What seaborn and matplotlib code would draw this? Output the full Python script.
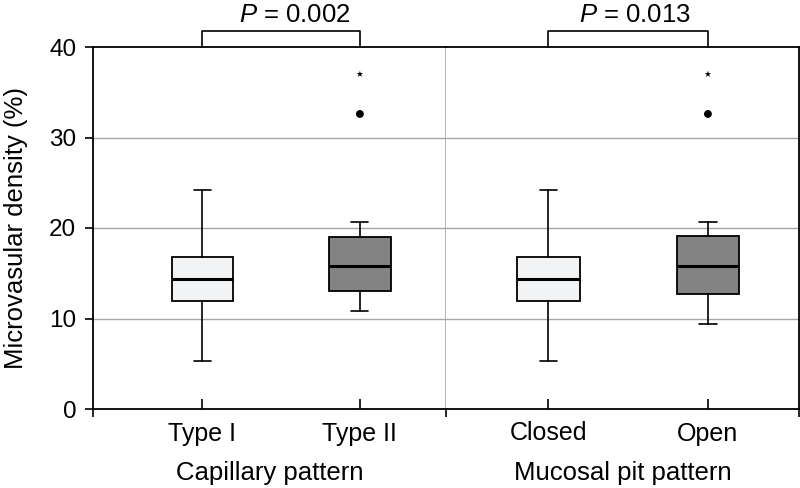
import numpy as np
import pandas as pd
import matplotlib
matplotlib.use("Agg")
import matplotlib.pyplot as plt
import matplotlib.transforms as mtransforms
import seaborn as sns

# ---- data ----
panel_titles = ["Capillary pattern", "Mucosal pit pattern"]
categories = [["Type I", "Type II"], ["Closed", "Open"]]
p_values = ["0.002", "0.013"]
whislo = [[5.3, 10.8], [5.3, 9.4]]
q1 = [[11.9, 13.0], [11.9, 12.7]]
med = [[14.4, 15.8], [14.4, 15.8]]
q3 = [[16.8, 19.0], [16.8, 19.1]]
whishi = [[24.2, 20.7], [24.2, 20.7]]
outliers = [[[], [32.6]], [[], [32.6]]]
extremes = [[[], [37.0]], [[], [37.0]]]
box_colors = ["#f2f3f5", "#838383"]
y_ticks = [0, 10, 20, 30, 40]

sns.set_theme(style="white")
plt.rcParams["font.family"] = ["Liberation Sans", "DejaVu Sans"]
plt.rcParams["mathtext.fontset"] = "custom"
plt.rcParams["mathtext.it"] = "Liberation Sans:italic"
plt.rcParams["mathtext.rm"] = "Liberation Sans"
plt.rcParams["text.color"] = "black"
plt.rcParams["axes.labelcolor"] = "black"
plt.rcParams["xtick.color"] = "black"
plt.rcParams["ytick.color"] = "black"

fig = plt.figure(figsize=(8, 4.88), dpi=100)
L, R, B, T = 93 / 800, 799 / 800, (488 - 409) / 488, (488 - 47) / 488
mid = 446 / 800
axes = [fig.add_axes([L, B, mid - L, T - B]), fig.add_axes([mid, B, R - mid, T - B])]
xlims = [(-0.695, 1.547), (-0.642, 1.571)]
p_shift_px = [14, 7]

for i, ax in enumerate(axes):
    ax.set_ylim(0, 40)
    ax.set_xlim(*xlims[i])
    for yv in [10, 20, 30]:
        ax.axhline(yv, color="#a6a6a6", lw=1.0, zorder=0)
    stats = []
    for j in range(2):
        stats.append(dict(whislo=whislo[i][j], q1=q1[i][j], med=med[i][j],
                          q3=q3[i][j], whishi=whishi[i][j], fliers=[]))
    bp = ax.bxp(stats, positions=[0, 1], widths=0.39, capwidths=0.108,
                patch_artist=True, showfliers=False, manage_ticks=False,
                boxprops=dict(linewidth=1.3, edgecolor="black"),
                medianprops=dict(linewidth=2.2, color="black"),
                whiskerprops=dict(linewidth=1.2, color="black"),
                capprops=dict(linewidth=1.2, color="black"))
    for patch, c in zip(bp["boxes"], box_colors):
        patch.set_facecolor(c)
    rows = []
    for j in range(2):
        for v in outliers[i][j]:
            rows.append(dict(x=j, y=v, kind="out"))
        for v in extremes[i][j]:
            rows.append(dict(x=j, y=v, kind="ext"))
    df = pd.DataFrame(rows)
    sns.scatterplot(data=df[df.kind == "out"], x="x", y="y", ax=ax, marker="o",
                    color="black", s=32, edgecolor="none", legend=False, zorder=5)
    sns.scatterplot(data=df[df.kind == "ext"], x="x", y="y", ax=ax, marker="*",
                    color="black", s=24, edgecolor="none", legend=False, zorder=5)
    ax.set_xlim(*xlims[i])
    ax.set_ylim(0, 40)

    ax.set_xticks([0, 1])
    ax.set_xticklabels(categories[i], fontsize=18)
    ax.tick_params(axis="x", which="major", bottom=True, direction="in", length=7,
                   width=1.2, color="black", pad=9)
    ax.set_xticks(list(xlims[i]), minor=True)
    ax.tick_params(axis="x", which="minor", bottom=True, direction="out", length=6,
                   width=1.2, color="black")
    ax.set_xlabel(panel_titles[i], fontsize=18.5, labelpad=11)

    ax.plot([0, 0, 1, 1], [40, 41.8, 41.8, 40], color="black", lw=1.2,
            clip_on=False, zorder=6)
    off = mtransforms.ScaledTranslation(p_shift_px[i] / 100, 0, fig.dpi_scale_trans)
    ax.text(0.5, 43.5, "$\\mathit{P}$ = " + p_values[i], ha="center", va="center",
            fontsize=18.5, clip_on=False, transform=ax.transData + off)

    for s in ["top", "bottom", "left", "right"]:
        ax.spines[s].set_color("black")
        ax.spines[s].set_linewidth(1.3)
        ax.spines[s].set_visible(True)

ax1, ax2 = axes
ax1.set_yticks(y_ticks)
ax1.set_yticklabels([str(v) for v in y_ticks], fontsize=17.5)
ax1.tick_params(axis="y", direction="out", length=6, width=1.2, color="black",
                left=True, pad=6)
ax1.set_ylabel("Microvasular density (%)", fontsize=18.5, labelpad=15)
ax1.spines["right"].set_color("#a6a6a6")
ax1.spines["right"].set_linewidth(1.2)
ax2.spines["left"].set_visible(False)
ax2.set_yticks(y_ticks)
ax2.tick_params(axis="y", left=False, labelleft=False)
ax2.set_ylabel("")
ax2.set_xticks([xlims[1][1]], minor=True)

fig.savefig("out.png", dpi=100)
